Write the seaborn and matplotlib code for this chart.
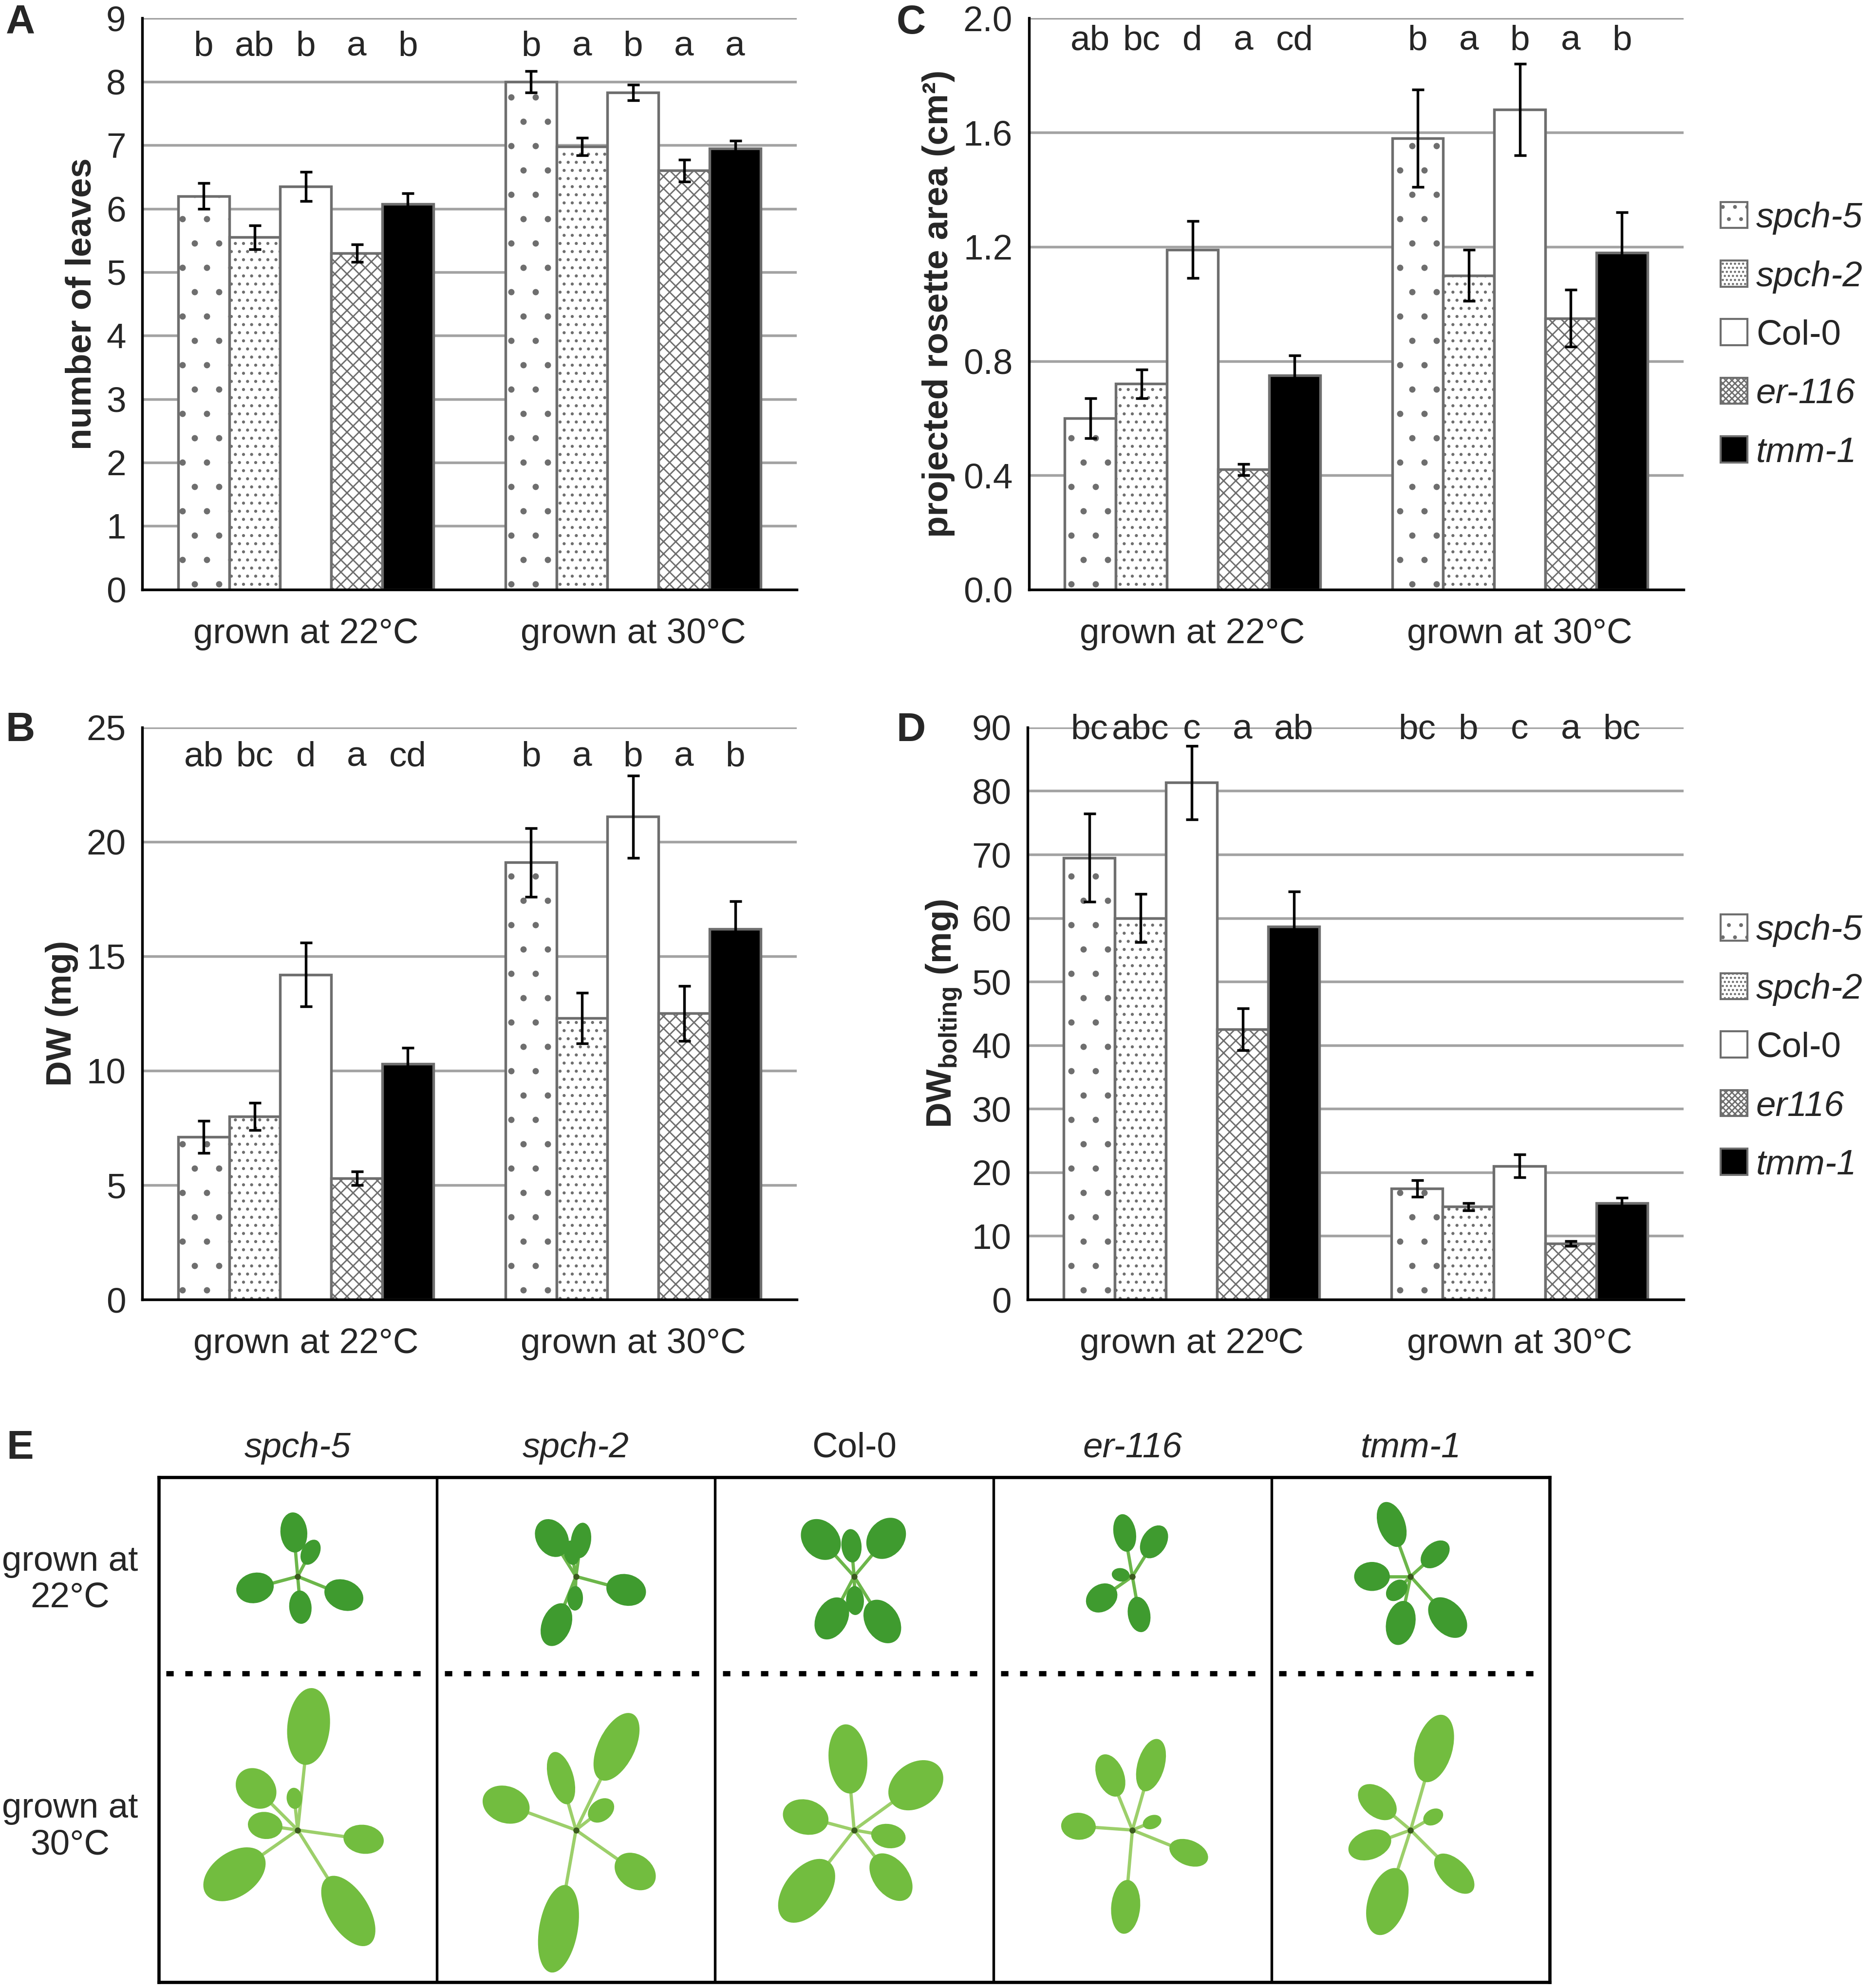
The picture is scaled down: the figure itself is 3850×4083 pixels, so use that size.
import numpy as np
import pandas as pd
import seaborn as sns
import matplotlib.pyplot as plt
from matplotlib.patches import Patch, Ellipse

# ---- data ----
genotypes = ['spch-5', 'spch-2', 'Col-0', 'er-116', 'tmm-1']
conditions = ['grown at 22°C', 'grown at 30°C']
conditions_d = ['grown at 22ºC', 'grown at 30°C']

leaves_22 = [6.2, 5.55, 6.35, 5.3, 6.07]
leaves_30 = [8.0, 6.98, 7.83, 6.6, 6.95]
leaves_err_22 = [0.2, 0.19, 0.23, 0.14, 0.17]
leaves_err_30 = [0.17, 0.14, 0.12, 0.17, 0.12]
leaves_let_22 = ['b', 'ab', 'b', 'a', 'b']
leaves_let_30 = ['b', 'a', 'b', 'a', 'a']

area_22 = [0.60, 0.72, 1.19, 0.42, 0.75]
area_30 = [1.58, 1.10, 1.68, 0.95, 1.18]
area_err_22 = [0.07, 0.05, 0.10, 0.02, 0.07]
area_err_30 = [0.17, 0.09, 0.16, 0.10, 0.14]
area_let_22 = ['ab', 'bc', 'd', 'a', 'cd']
area_let_30 = ['b', 'a', 'b', 'a', 'b']

dw_22 = [7.1, 8.0, 14.2, 5.3, 10.3]
dw_30 = [19.1, 12.3, 21.1, 12.5, 16.2]
dw_err_22 = [0.7, 0.6, 1.4, 0.3, 0.7]
dw_err_30 = [1.5, 1.1, 1.8, 1.2, 1.2]
dw_let_22 = ['ab', 'bc', 'd', 'a', 'cd']
dw_let_30 = ['b', 'a', 'b', 'a', 'b']

dwb_22 = [69.5, 60.0, 81.3, 42.5, 58.7]
dwb_30 = [17.5, 14.6, 21.0, 8.8, 15.2]
dwb_err_22 = [6.9, 3.8, 5.8, 3.3, 5.5]
dwb_err_30 = [1.3, 0.6, 1.8, 0.4, 0.8]
dwb_let_22 = ['bc', 'abc', 'c', 'a', 'ab']
dwb_let_30 = ['bc', 'b', 'c', 'a', 'bc']

legend_c = ['spch-5', 'spch-2', 'Col-0', 'er-116', 'tmm-1']
legend_d = ['spch-5', 'spch-2', 'Col-0', 'er116', 'tmm-1']

# ---- style ----
sns.set_style('white')
narrow = ['Liberation Sans Narrow', 'Liberation Sans', 'DejaVu Sans']
plt.rcParams['font.family'] = narrow
plt.rcParams['mathtext.fontset'] = 'custom'
plt.rcParams['mathtext.rm'] = 'Liberation Sans:bold'
plt.rcParams['mathtext.bf'] = 'Liberation Sans:bold'
plt.rcParams['hatch.linewidth'] = 0.7
plt.rcParams['hatch.color'] = 'black'

face = {'spch-5': 'white', 'spch-2': 'white', 'Col-0': 'white',
        'er-116': 'white', 'tmm-1': 'black'}
hatches = ['.', '...', '', 'xxxx', '']
FS = 17.5

fig = plt.figure(figsize=(3850 / 300, 4083 / 300), dpi=300)
W, H = 1478, 1568


def fig_axes(x0, x1, ytop, ybot):
    return fig.add_axes([x0 / W, 1 - ybot / H, (x1 - x0) / W, (ybot - ytop) / H])


def bar_panel(ax, m22, m30, e22, e30, l22, l30, ymax, ystep, fmt, ylabel,
              xlabels, let_y):
    df = pd.DataFrame({
        'cond': [xlabels[0]] * 5 + [xlabels[1]] * 5,
        'geno': genotypes * 2,
        'val': m22 + m30,
    })
    sns.barplot(data=df, x='cond', y='val', hue='geno', order=xlabels,
                hue_order=genotypes, palette=face, saturation=1, width=0.78,
                errorbar=None, edgecolor='#6e6e6e', linewidth=1.3,
                legend=False, ax=ax)
    errs = [e22, e30]
    lets = [l22, l30]
    means = [m22, m30]
    bar_conts = list(ax.containers)
    for gi, cont in enumerate(bar_conts):
        for ci, bar in enumerate(cont):
            bar.set_hatch(hatches[gi])
            if hasattr(bar, 'set_hatchcolor'):
                bar.set_hatchcolor('black')
            xc = bar.get_x() + bar.get_width() / 2
            ax.errorbar(xc, means[ci][gi], yerr=errs[ci][gi], color='black',
                        lw=1.3, capsize=3, capthick=1.3, zorder=5)
            ax.text(xc, let_y, lets[ci][gi], ha='center', va='center',
                    fontsize=FS)
    ax.set_xlim(-0.5, 1.5)
    ax.set_ylim(0, ymax)
    ticks = np.arange(0, ymax + ystep / 2, ystep)
    ax.set_yticks(ticks)
    ax.set_yticklabels([fmt.format(t) for t in ticks], fontsize=FS)
    ax.set_xticks([0, 1])
    ax.set_xticklabels(xlabels, fontsize=FS)
    ax.set_xticks([-0.5, 0.5, 1.5], minor=True)
    ax.tick_params(axis='x', which='major', length=0, pad=14)
    ax.tick_params(axis='x', which='minor', length=7, width=1.2, color='black')
    ax.tick_params(axis='y', length=4, width=1.2, color='black', pad=4)
    ax.set_axisbelow(True)
    ax.yaxis.grid(True, color='#a3a3a3', lw=1.3)
    ax.xaxis.grid(False)
    for s in ['top', 'right']:
        ax.spines[s].set_visible(False)
    for s in ['left', 'bottom']:
        ax.spines[s].set_color('black')
        ax.spines[s].set_linewidth(1.3)
    ax.set_xlabel('')
    ax.set_ylabel(ylabel, fontsize=FS, fontweight='bold',
                  family=['Liberation Sans', 'DejaVu Sans'])


def add_legend(ax, labels, yanchor):
    handles = []
    for lab, g, h in zip(labels, genotypes, hatches):
        handles.append(Patch(facecolor=face[g], edgecolor='#6e6e6e',
                             hatch=h * 2 if h else h, lw=1.0))
    leg = ax.legend(handles, labels, loc='center left',
                    bbox_to_anchor=(1.035, yanchor), frameon=False,
                    fontsize=FS, handlelength=0.75, handleheight=0.75,
                    handletextpad=0.25, labelspacing=0.72, borderaxespad=0)
    for t in leg.get_texts():
        if t.get_text() != 'Col-0':
            t.set_style('italic')


ax_a = fig_axes(112, 628, 14.4, 465)
bar_panel(ax_a, leaves_22, leaves_30, leaves_err_22, leaves_err_30,
          leaves_let_22, leaves_let_30, 9, 1, '{:.0f}', 'number of leaves',
          conditions, 8.55)

ax_c = fig_axes(811, 1327, 14.4, 465)
bar_panel(ax_c, area_22, area_30, area_err_22, area_err_30,
          area_let_22, area_let_30, 2.0, 0.4, '{:.1f}',
          'projected rosette area (cm²)', conditions, 1.92)
add_legend(ax_c, legend_c, 0.445)

ax_b = fig_axes(112, 628, 573.7, 1025)
bar_panel(ax_b, dw_22, dw_30, dw_err_22, dw_err_30, dw_let_22, dw_let_30,
          25, 5, '{:.0f}', 'DW (mg)', conditions, 23.7)

ax_d = fig_axes(810, 1327, 573.7, 1025)
bar_panel(ax_d, dwb_22, dwb_30, dwb_err_22, dwb_err_30, dwb_let_22,
          dwb_let_30, 90, 10, '{:.0f}', r'DW$_{\mathbf{bolting}}$ (mg)',
          conditions_d, 89.6)
add_legend(ax_d, legend_d, 0.44)

# panel letters
for lab, x, y in [('A', 16, 18), ('C', 718, 18), ('B', 16, 576),
                  ('D', 718, 576), ('E', 16, 1142)]:
    fig.text(x / W, 1 - y / H, lab, fontsize=20, fontweight='bold',
             family=['Liberation Sans', 'DejaVu Sans'], ha='center',
             va='center')

# ---- panel E: rosette sketches ----
ax_e = fig_axes(125, 1221.6, 1165, 1563.4)
EW, EH = 1096.6, 398.4
cell = EW / 5
dash_y = 243.6
ax_e.set_xlim(0, EW)
ax_e.set_ylim(0, EH)
ax_e.set_xticks([])
ax_e.set_yticks([])
for s in ax_e.spines.values():
    s.set_color('black')
    s.set_linewidth(1.6)
for k in range(1, 5):
    ax_e.axvline(cell * k, color='black', lw=1.3)
for k in range(5):
    ax_e.plot([cell * k + 6, cell * (k + 1) - 6], [dash_y, dash_y],
              color='black', lw=2.6, ls=(0, (1.4, 2.2)))
    ax_e.text(cell * (k + 0.5), EH + 23, genotypes[k], ha='center',
              va='center', fontsize=FS,
              style='normal' if genotypes[k] == 'Col-0' else 'italic',
              clip_on=False)

for lab, y in [('grown at\n22°C', 1246), ('grown at\n30°C', 1441)]:
    fig.text(55 / W, 1 - y / H, lab, ha='center', va='center', fontsize=FS,
             linespacing=1.15)

# leaf layout per plant: (angle deg, petiole, blade length, blade width)
plants_22 = [
    [(95, 25, 36, 24), (62, 16, 24, 16), (195, 26, 34, 27), (-22, 30, 36, 27),
     (-85, 16, 30, 20)],
    [(122, 26, 36, 28), (82, 20, 32, 18), (-15, 32, 36, 28),
     (-112, 30, 40, 26), (-92, 12, 22, 14), (100, 14, 22, 14)],
    [(132, 28, 40, 32), (50, 28, 40, 32), (95, 16, 30, 18), (-58, 30, 42, 30),
     (-118, 26, 40, 28), (-88, 12, 26, 16)],
    [(100, 26, 34, 20), (58, 24, 32, 22), (-145, 22, 30, 24),
     (-80, 22, 32, 20), (172, 6, 16, 12)],
    [(110, 32, 42, 24), (180, 22, 32, 26), (42, 18, 30, 20), (-48, 32, 42, 28),
     (-102, 26, 40, 26), (-135, 10, 22, 16)],
]
plants_30 = [
    [(84, 72, 80, 44), (135, 42, 46, 38), (-145, 48, 72, 46),
     (-58, 62, 82, 42), (-8, 52, 42, 30), (172, 20, 36, 28), (96, 26, 22, 16)],
    [(64, 62, 76, 38), (106, 32, 56, 26), (160, 56, 50, 38),
     (-35, 56, 46, 35), (-100, 62, 92, 40), (38, 22, 30, 22)],
    [(95, 42, 72, 40), (36, 52, 62, 46), (165, 32, 48, 36),
     (-128, 46, 76, 46), (-52, 38, 56, 36), (-10, 22, 36, 25)],
    [(112, 42, 46, 28), (74, 46, 56, 28), (176, 42, 36, 28),
     (-95, 56, 56, 30), (-22, 46, 42, 26), (22, 16, 20, 14)],
    [(74, 56, 72, 38), (140, 26, 46, 30), (-160, 26, 46, 30),
     (-108, 46, 72, 40), (-45, 42, 52, 28), (30, 20, 22, 16)],
]


def rosette(ax, cx, cy, leaves, color, stem, scale):
    for ang, pet, length, width in leaves:
        pet, length, width = pet * scale, length * scale, width * scale
        r = np.deg2rad(ang)
        ux, uy = np.cos(r), np.sin(r)
        ax.plot([cx, cx + pet * ux], [cy, cy + pet * uy], color=stem,
                lw=1.6, solid_capstyle='round', zorder=2)
        ax.add_patch(Ellipse((cx + (pet + length / 2 - 3) * ux,
                              cy + (pet + length / 2 - 3) * uy),
                             length, width, angle=ang, facecolor=color,
                             edgecolor='none', zorder=3))
    ax.plot(cx, cy, 'o', color='#3b5a1e', ms=2, zorder=4)


for k in range(5):
    rosette(ax_e, cell * (k + 0.5), 320, plants_22[k], '#3f9b2f', '#6cb64a',
            0.88)
    rosette(ax_e, cell * (k + 0.5), 120, plants_30[k], '#72bd3f', '#9ccf6a',
            0.76)

fig.savefig('out.png', dpi=300)
